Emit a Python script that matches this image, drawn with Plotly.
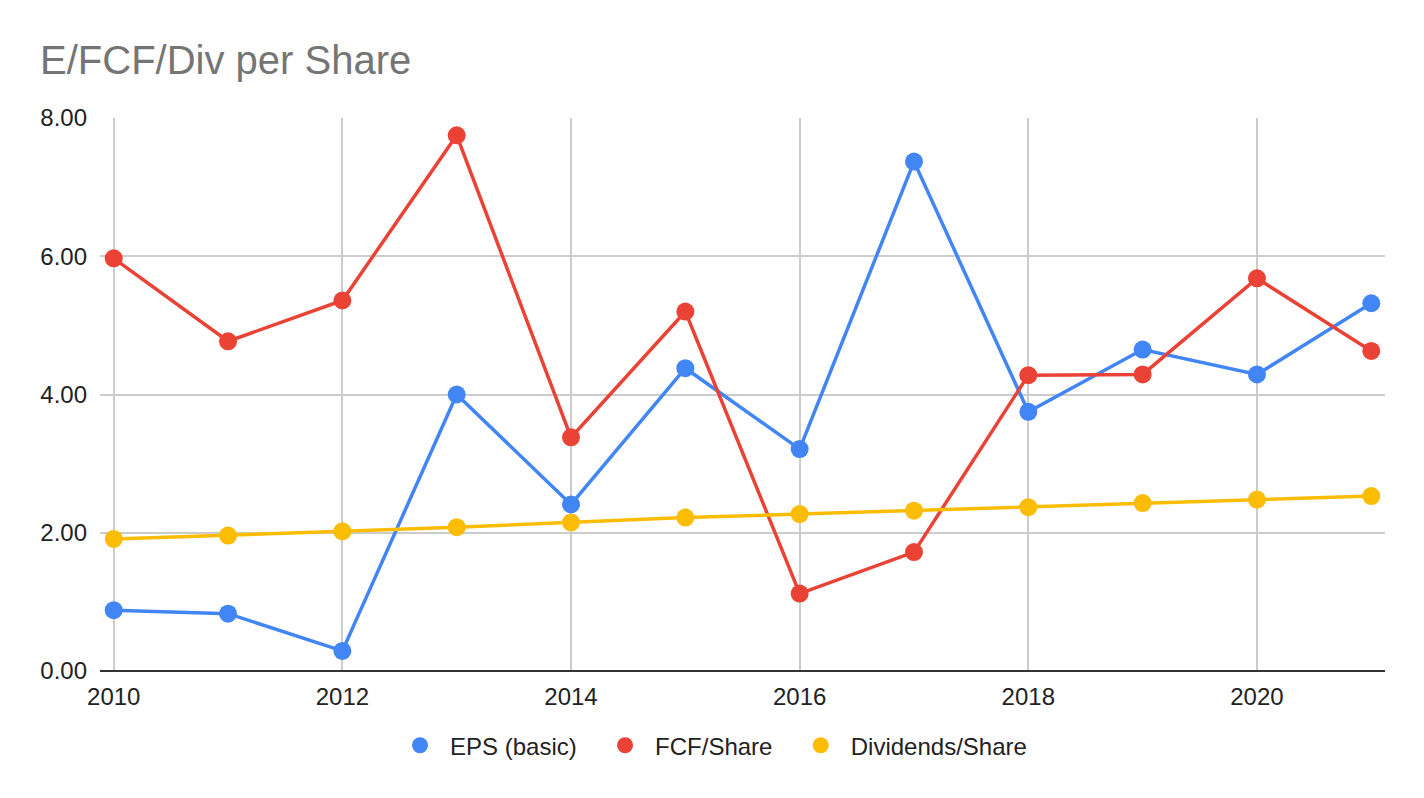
import plotly.graph_objects as go

# --------------------- data ---------------------
years = [2010, 2011, 2012, 2013, 2014, 2015, 2016, 2017, 2018, 2019, 2020, 2021]
eps_basic = [0.88, 0.83, 0.29, 4.00, 2.41, 4.38, 3.21, 7.37, 3.75, 4.65, 4.29, 5.32]
fcf_share = [5.97, 4.77, 5.36, 7.75, 3.38, 5.20, 1.12, 1.72, 4.28, 4.29, 5.68, 4.63]
div_share = [1.91, 1.96, 2.02, 2.08, 2.15, 2.22, 2.27, 2.32, 2.37, 2.43, 2.48, 2.53]

series_names = ['EPS (basic)', 'FCF/Share', 'Dividends/Share']
series_colors = ['#4285F4', '#EA4335', '#FBBC04']

font_family = 'Arial, Liberation Sans, sans-serif'

fig = go.Figure()

# the lines themselves (legend comes from marker-only dummies below)
for name, vals, col in zip(series_names, [eps_basic, fcf_share, div_share], series_colors):
    fig.add_trace(go.Scatter(x=years, y=vals, name=name,
                             mode='lines+markers',
                             line=dict(color=col, width=3.5),
                             marker=dict(color=col, size=18),
                             showlegend=False,
                             hoverinfo='skip'))

# legend entries: just a circle, like the sheets chart
# (a couple of non-breaking spaces pad the gap between entries)
pad = '\u00a0' * 2
for i, (name, col) in enumerate(zip(series_names, series_colors)):
    label = name + pad if i < len(series_names) - 1 else name
    fig.add_trace(go.Scatter(x=[None], y=[None], name=label,
                             mode='markers',
                             marker=dict(color=col, size=18),
                             showlegend=True))

# page body has an 8px margin, so margins are shifted by that much
fig.update_layout(
    width=1424, height=798,
    paper_bgcolor='white', plot_bgcolor='white',
    font=dict(family=font_family, size=24, color='#222222'),
    title=dict(text='E/FCF/Div per Share', x=0.0225, xanchor='left',
               y=0.935, yanchor='middle',
               font=dict(size=40, color='#757575', family=font_family)),
    margin=dict(l=92, r=47, t=110, b=135),
    showlegend=True,
    legend=dict(orientation='h', x=0.4755, xanchor='center', y=-0.135, yanchor='middle',
                font=dict(size=24, color='#222222'), itemsizing='trace',
                itemwidth=50, traceorder='normal'),
    hovermode=False,
)

fig.update_xaxes(range=[2009.88, 2021.12], dtick=2, tick0=2010,
                 showgrid=True, gridcolor='#cccccc', gridwidth=1.5,
                 zeroline=False, showline=False,
                 ticks='outside', ticklen=4, tickcolor='rgba(0,0,0,0)')
fig.update_yaxes(range=[0, 8], dtick=2, tickformat='.2f',
                 showgrid=True, gridcolor='#cccccc', gridwidth=1.5,
                 zeroline=True, zerolinecolor='#333333', zerolinewidth=2,
                 showline=False, ticklabelstandoff=12)

fig.write_html("out.html")
